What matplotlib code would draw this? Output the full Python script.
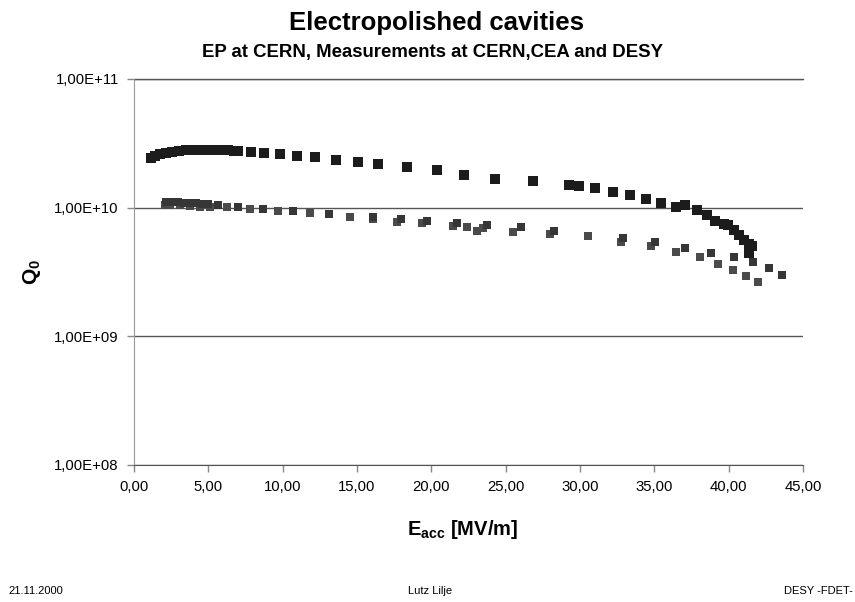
import math
import matplotlib
matplotlib.use("Agg")
import matplotlib.pyplot as plt
from matplotlib.ticker import FixedLocator, FuncFormatter, NullLocator

plt.rcParams['font.family'] = ['Liberation Sans', 'DejaVu Sans']
plt.rcParams['mathtext.fontset'] = 'custom'
plt.rcParams['mathtext.rm'] = 'Liberation Sans'
plt.rcParams['mathtext.bf'] = 'Liberation Sans:bold'

# cavity 1 (black)
e_black = [1.14, 1.41, 1.75, 2.15, 2.56, 3.03, 3.50, 3.97, 4.44, 4.92, 5.39, 5.86, 6.33, 6.73,
           7.00, 7.88, 8.75, 9.83, 10.98, 12.19, 13.60, 15.08, 16.43, 18.38, 20.40, 22.22,
           24.31, 26.87, 29.23, 29.90, 31.04, 32.19, 33.33, 34.41, 35.42, 36.43, 37.04,
           37.85, 38.52, 39.06, 39.66, 39.93, 40.34, 40.67, 41.01, 41.35, 41.55, 41.35]
q_black = [2.44e10, 2.53e10, 2.62e10, 2.67e10, 2.72e10, 2.77e10, 2.79e10, 2.82e10, 2.82e10,
           2.82e10, 2.82e10, 2.79e10, 2.79e10, 2.77e10,
           2.77e10, 2.72e10, 2.67e10, 2.62e10, 2.53e10, 2.48e10, 2.35e10, 2.27e10, 2.19e10,
           2.08e10, 1.97e10, 1.80e10, 1.68e10, 1.62e10, 1.51e10, 1.48e10, 1.43e10, 1.33e10,
           1.26e10, 1.17e10, 1.09e10, 1.02e10, 1.04e10, 9.65e9, 8.83e9, 7.93e9, 7.51e9,
           7.38e9, 6.75e9, 6.18e9, 5.65e9, 5.26e9, 5.07e9, 4.48e9]

# cavity 2, first measurement (dark grey)
e_grey1 = [2.15, 2.56, 2.96, 3.37, 3.77, 4.18, 4.58, 4.98, 5.66, 7.00, 8.69, 10.71, 13.13,
           16.09, 17.98, 19.73, 21.75, 23.77, 26.06, 28.22, 32.86, 35.02, 37.04, 38.79,
           40.34, 41.62, 42.69, 43.57]
q_grey1 = [1.11e10, 1.11e10, 1.10e10, 1.09e10, 1.09e10, 1.08e10, 1.07e10, 1.07e10, 1.05e10,
           1.02e10, 9.83e9, 9.48e9, 8.98e9, 8.51e9, 8.22e9, 7.93e9, 7.65e9, 7.38e9, 7.12e9,
           6.63e9, 5.85e9, 5.45e9, 4.89e9, 4.48e9, 4.10e9, 3.75e9, 3.37e9, 2.97e9]

# cavity 2, second measurement (grey)
e_grey2 = [2.09, 2.42, 3.10, 3.77, 4.44, 5.12, 6.26, 7.81, 9.70, 11.85, 14.55, 16.09, 17.71,
           19.39, 21.48, 22.42, 23.10, 23.50, 25.52, 28.01, 30.51, 32.73, 34.75, 36.43,
           38.05, 39.26, 40.27, 41.14, 41.95]
q_grey2 = [1.04e10, 1.04e10, 1.04e10, 1.03e10, 1.02e10, 1.02e10, 1.02e10, 9.83e9, 9.48e9,
           9.15e9, 8.51e9, 8.22e9, 7.79e9, 7.65e9, 7.25e9, 7.12e9, 6.63e9, 7.00e9, 6.52e9,
           6.29e9, 6.07e9, 5.45e9, 4.99e9, 4.56e9, 4.10e9, 3.68e9, 3.25e9, 2.92e9, 2.62e9]

x_ticks = [0, 5, 10, 15, 20, 25, 30, 35, 40, 45]
y_ticks = [1e8, 1e9, 1e10, 1e11]

fig = plt.figure(figsize=(8.55, 6.02), dpi=100)
ax = fig.add_axes([0.1567, 0.2276, 0.7825, 0.6412])

ax.plot(e_grey2, q_grey2, 's', color='#4a4a4a', markersize=6.3, markeredgewidth=0, zorder=3)
ax.plot(e_grey1, q_grey1, 's', color='#363636', markersize=6.3, markeredgewidth=0, zorder=3)
ax.plot(e_black, q_black, 's', color='#1c1c1c', markersize=7, markeredgewidth=0, zorder=4)

ax.set_yscale('log')
ax.set_xlim(0, 45)
ax.set_ylim(1e8, 1e11)
ax.xaxis.set_major_locator(FixedLocator(x_ticks))
ax.yaxis.set_major_locator(FixedLocator(y_ticks))
ax.yaxis.set_minor_locator(NullLocator())
ax.xaxis.set_major_formatter(FuncFormatter(lambda v, p: f"{v:.2f}".replace('.', ',')))
ax.yaxis.set_major_formatter(FuncFormatter(lambda v, p: f"1,00E+{int(round(math.log10(v))):02d}"))

ax.tick_params(axis='both', labelsize=10.7, colors='#888888', labelcolor='black', length=5, width=1)
ax.tick_params(axis='x', pad=6)
ax.tick_params(axis='y', pad=6)

ax.grid(axis='y', color='#555555', linewidth=1)
ax.axhline(1e11, color='#555555', linewidth=1, clip_on=False)
ax.spines['top'].set_visible(False)
ax.spines['right'].set_visible(False)
ax.spines['left'].set_color('#999999')
ax.spines['bottom'].set_color('#555555')

fig.text(0.511, 0.962, 'Electropolished cavities', ha='center', va='center',
         fontsize=18.5, fontweight='bold')
fig.text(0.506, 0.913, 'EP at CERN, Measurements at CERN,CEA and DESY', ha='center', va='center',
         fontsize=13.4, fontweight='bold')
fig.text(0.541, 0.120, r'E$_{\mathbf{acc}}$ [MV/m]', ha='center', va='center',
         fontsize=14.5, fontweight='bold')
fig.text(0.037, 0.548, r'Q$_{\mathbf{0}}$', ha='center', va='center', rotation=90,
         fontsize=15, fontweight='bold')

fig.text(0.010, 0.018, '21.11.2000', ha='left', va='center', fontsize=8)
fig.text(0.503, 0.018, 'Lutz Lilje', ha='center', va='center', fontsize=8)
fig.text(0.998, 0.018, 'DESY -FDET-', ha='right', va='center', fontsize=8)

fig.savefig('out.png', dpi=100)
